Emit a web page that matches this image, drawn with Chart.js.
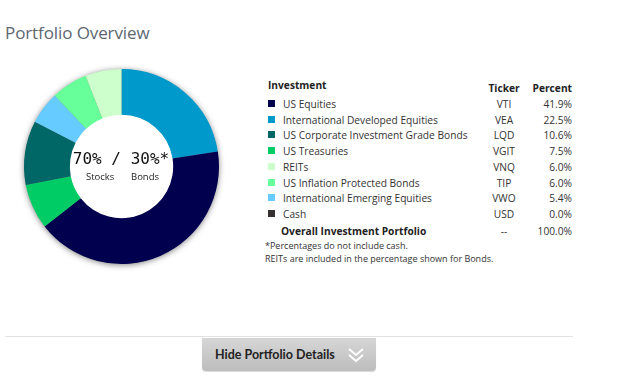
<!DOCTYPE html>
<html><head><meta charset="utf-8">
<script src="https://cdn.jsdelivr.net/npm/chart.js@4"></script>
<style>
body{margin:0;width:640px;height:382px;background:#fff;position:relative;overflow:hidden;font-family:"Open Sans",Lato,sans-serif;color:#333;}
#title{position:absolute;left:5px;top:21px;font-size:17px;color:#5d6670;letter-spacing:-0.1px;}
#chartBox{position:absolute;left:14px;top:59px;width:215px;height:215px;}
#center{position:absolute;left:71px;top:150px;width:100px;text-align:center;pointer-events:none;}
#center .big{font-family:"DejaVu Sans Mono",monospace;font-size:16px;color:#111;line-height:18px;white-space:nowrap;}
#center .small{position:relative;height:14px;font-size:9.5px;color:#222;}
#center .small span{position:absolute;top:2px;}
.row{position:absolute;height:16px;line-height:16px;font-size:10.2px;color:#333;white-space:nowrap;}
.sq{position:absolute;left:268px;width:7px;height:7px;}
.tk{position:absolute;width:60px;margin-left:-30px;text-align:center;}
.pc{position:absolute;text-align:right;width:70px;}
.hdr{font-weight:bold;color:#222;}
.note{position:absolute;left:265px;font-size:9px;color:#333;line-height:12px;white-space:nowrap;}
#divider{position:absolute;left:5px;top:336px;width:568px;height:1px;background:#e2e2e2;}
#btn{position:absolute;left:202px;top:338px;width:174px;height:33px;border-radius:0 0 4px 4px;background:linear-gradient(#d6d6d6,#bdbdbd);box-shadow:0 1px 1px rgba(0,0,0,0.15);}
#btn .lbl{position:absolute;left:13px;top:8px;font-family:Lato,sans-serif;font-weight:bold;font-size:13px;color:#222;transform:scaleX(0.96);transform-origin:0 0;white-space:nowrap;}
#btn svg{position:absolute;left:145px;top:9px;}
</style></head><body>
<div id="title">Portfolio Overview</div>
<div id="chartBox"><canvas id="c"></canvas></div>
<div id="center"><div class="big">70% / 30%*</div><div class="small"><span style="left:15px">Stocks</span><span style="left:60px">Bonds</span></div></div>
<div id="table"></div>
<div id="divider"></div>
<div id="btn"><span class="lbl">Hide Portfolio Details</span>
<svg width="18" height="16" viewBox="0 0 18 16"><polyline points="2,2 9,8 16,2" fill="none" stroke="#fff" stroke-width="2"/><polyline points="2,8 9,14 16,8" fill="none" stroke="#fff" stroke-width="2"/></svg></div>
<script>
// ---- data ----
const investments = ['US Equities','International Developed Equities','US Corporate Investment Grade Bonds','US Treasuries','REITs','US Inflation Protected Bonds','International Emerging Equities','Cash'];
const tickers = ['VTI','VEA','LQD','VGIT','VNQ','TIP','VWO','USD'];
const percents = [41.9,22.5,10.6,7.5,6.0,6.0,5.4,0.0];
const swatchColors = ['#00004f','#0099cc','#006666','#00cc66','#ccffcc','#66ff99','#66ccff','#363030'];
const chartOrder = ['VEA','VTI','VGIT','LQD','VWO','TIP','VNQ'];
const totalLabel = 'Overall Investment Portfolio';
const totalTicker = '--';
const totalPercent = 100.0;
const notes = ['*Percentages do not include cash.','REITs are included in the percentage shown for Bonds.'];

// ---- table ----
const tbl = document.getElementById('table');
function add(html){tbl.insertAdjacentHTML('beforeend',html);}
add('<div class="row hdr" style="left:268px;top:77px">Investment</div>');
add('<div class="row hdr tk" style="left:504px;top:80px">Ticker</div>');
add('<div class="row hdr pc" style="left:502px;top:80px">Percent</div>');
investments.forEach((name,i)=>{
  const cy = 104 + i*15.7;
  add(`<div class="sq" style="top:${Math.round(cy-4)}px;background:${swatchColors[i]}"></div>`);
  add(`<div class="row" style="left:283px;top:${Math.round(cy-8)}px">${name}</div>`);
  add(`<div class="row tk" style="left:504px;top:${Math.round(cy-8)}px">${tickers[i]}</div>`);
  add(`<div class="row pc" style="left:502px;top:${Math.round(cy-8)}px">${percents[i].toFixed(1)}%</div>`);
});
add(`<div class="row hdr" style="left:281px;top:223px">${totalLabel}</div>`);
add(`<div class="row tk" style="left:504px;top:223px">${totalTicker}</div>`);
add(`<div class="row pc" style="left:502px;top:223px">${totalPercent.toFixed(1)}%</div>`);
notes.forEach((n,i)=>add(`<div class="note" style="top:${240+i*12.5}px">${n}</div>`));

// ---- chart ----
const chartData = chartOrder.map(t=>percents[tickers.indexOf(t)]);
const chartColors = chartOrder.map(t=>swatchColors[tickers.indexOf(t)]);
const chartLabels = chartOrder.map(t=>investments[tickers.indexOf(t)]);
const shadowPlugin = {
  id:'shadow',
  beforeDatasetsDraw(chart){
    const meta = chart.getDatasetMeta(0);
    if(!meta.data.length) return;
    const a = meta.data[0];
    const ctx = chart.ctx;
    ctx.save();
    ctx.shadowColor='rgba(0,0,0,0.55)';
    ctx.shadowBlur=6;
    ctx.shadowOffsetY=1;
    ctx.fillStyle='#888';
    ctx.beginPath();
    ctx.arc(a.x,a.y,a.outerRadius-0.5,0,Math.PI*2);
    ctx.fill();
    ctx.restore();
    ctx.save();
    ctx.fillStyle='#fff';
    ctx.beginPath();
    ctx.arc(a.x,a.y,a.innerRadius+0.5,0,Math.PI*2);
    ctx.fill();
    ctx.restore();
  }
};
new Chart(document.getElementById('c'),{
  type:'doughnut',
  data:{labels:chartLabels,datasets:[{data:chartData,backgroundColor:chartColors,borderWidth:0,hoverBorderWidth:0,hoverOffset:0}]},
  options:{responsive:true,maintainAspectRatio:false,animation:false,cutout:'53%',
    layout:{padding:10},
    plugins:{legend:{display:false},tooltip:{enabled:false}},
    events:[]},
  plugins:[shadowPlugin]
});
</script>
</body></html>
